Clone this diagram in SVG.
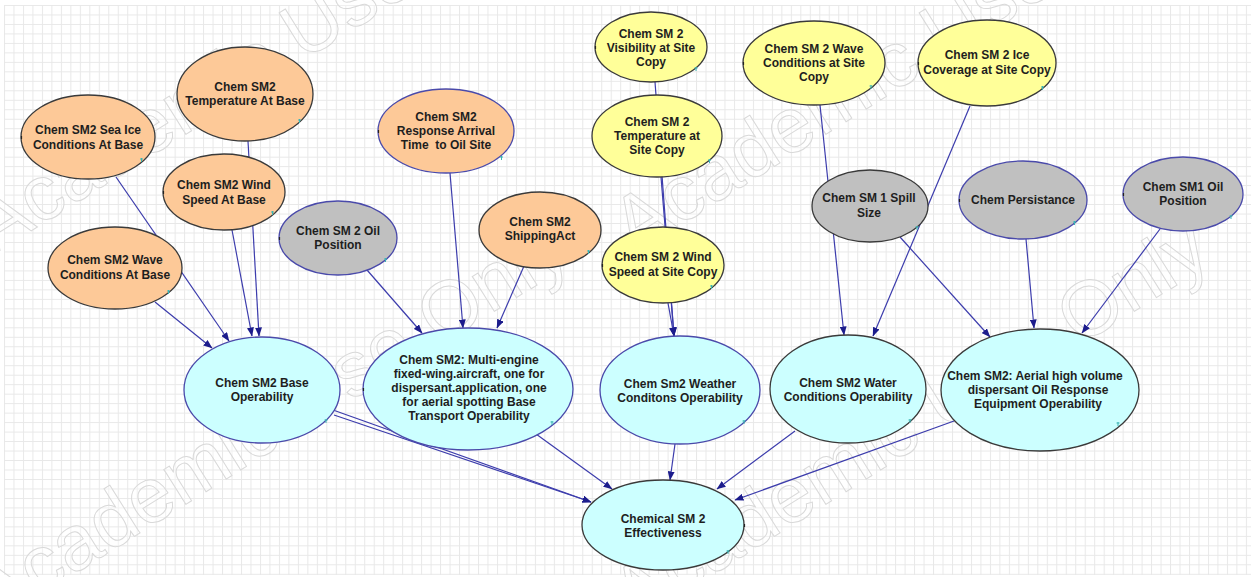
<svg xmlns="http://www.w3.org/2000/svg" width="1254" height="577" viewBox="0 0 1254 577">
  <style>
    .lbl { font-family: "Liberation Sans", Arial, sans-serif; font-size: 12px; font-weight: bold; fill: #1e1e1e; text-anchor: middle; white-space: pre; }
    .wm { font-family: "Liberation Sans", Arial, sans-serif; font-size: 78px; fill: #ffffff; fill-opacity: 0.35; stroke: #d9d9d9; stroke-width: 1; text-anchor: middle; }
    .orange { fill: #fdc998; }
    .yellow { fill: #ffff99; }
    .gray { fill: #c0c0c0; }
    .cyan { fill: #ccffff; }
    .dark { stroke: #3a3a3a; stroke-width: 1.3; }
    .blue { stroke: #4a4aaa; stroke-width: 1.3; }
    .edge { stroke: #3c3cac; stroke-width: 1.2; fill: none; marker-end: url(#arrow); }
    .tick { stroke: #3cb4b4; stroke-width: 1; fill: none; }
    .pin { stroke: #222; stroke-width: 1.2; }
  </style>
  <defs>
    <pattern id="grid" width="9.48" height="9.48" patternUnits="userSpaceOnUse" x="4" y="5">
      <path d="M0 0.5 H9.48 M0.5 0 V9.48" stroke="#e8e8e8" stroke-width="1" fill="none"/>
    </pattern>
    <marker id="arrow" viewBox="0 0 9 7" refX="8.5" refY="3.5" markerWidth="9" markerHeight="7" markerUnits="userSpaceOnUse" orient="auto">
      <path d="M0 0 L9 3.5 L0 7 Z" fill="#1c1c8c"/>
    </marker>
  </defs>

  <!-- canvas -->
  <rect x="0" y="0" width="1254" height="577" fill="#ffffff"/>
  <rect x="4" y="5" width="1247" height="570" fill="url(#grid)"/>

  <!-- watermark -->
  <g id="watermark">
    <text class="wm" transform="translate(284 73) rotate(-32)">Academic Use Only</text>
    <text class="wm" transform="translate(924 73) rotate(-32)">Academic Use Only</text>
    <text class="wm" transform="translate(284 443) rotate(-32)">Academic Use Only</text>
    <text class="wm" transform="translate(924 443) rotate(-32)">Academic Use Only</text>
  </g>

  <!-- links between nodes -->
  <g id="connectors">
    <line class="edge" x1="116" y1="177" x2="229" y2="341"/>
    <line class="edge" x1="155" y1="302" x2="212" y2="348"/>
    <line class="edge" x1="232" y1="230" x2="252" y2="336"/>
    <line class="edge" x1="248" y1="141" x2="259" y2="336"/>
    <line class="edge" x1="367" y1="270" x2="422" y2="333"/>
    <line class="edge" x1="450" y1="173" x2="463" y2="328"/>
    <line class="edge" x1="524" y1="266" x2="497" y2="328"/>
    <line class="edge" x1="655" y1="82" x2="674" y2="336"/>
    <line class="edge" x1="661" y1="177" x2="674" y2="336"/>
    <line class="edge" x1="668" y1="303" x2="674" y2="336"/>
    <line class="edge" x1="820" y1="105" x2="844" y2="335"/>
    <line class="edge" x1="970" y1="106" x2="873" y2="336"/>
    <line class="edge" x1="900" y1="237" x2="990" y2="337"/>
    <line class="edge" x1="1026" y1="239" x2="1034" y2="328"/>
    <line class="edge" x1="1160" y1="229" x2="1082" y2="333"/>
    <line class="edge" x1="333" y1="410" x2="591" y2="502"/>
    <line class="edge" x1="334" y1="415" x2="591" y2="502"/>
    <line class="edge" x1="536" y1="434" x2="612" y2="489"/>
    <line class="edge" x1="675" y1="444" x2="670" y2="480"/>
    <line class="edge" x1="795" y1="431" x2="717" y2="489"/>
    <line class="edge" x1="954" y1="421" x2="735" y2="500"/>
  </g>

  <g id="temp_base">
    <ellipse class="orange dark" cx="245" cy="94" rx="68" ry="47"/>
    <text class="lbl" x="245" y="91">Chem SM2</text>
    <text class="lbl" x="245" y="105">Temperature At Base</text>
    <path class="tick" d="M299.5 119 v4 M298 120 h3"/>
  </g>
  <g id="sea_ice_base">
    <ellipse class="orange dark" cx="88" cy="137" rx="67" ry="42"/>
    <text class="lbl" x="88" y="134">Chem SM2 Sea Ice</text>
    <text class="lbl" x="88" y="149">Conditions At Base</text>
    <path class="tick" d="M141.5 158 v4 M140 159 h3"/>
    <path class="pin" d="M21.5 136 v3"/>
  </g>
  <g id="wind_base">
    <ellipse class="orange dark" cx="224" cy="192" rx="61" ry="38"/>
    <text class="lbl" x="224" y="189">Chem SM2 Wind</text>
    <text class="lbl" x="224" y="204">Speed At Base</text>
    <path class="tick" d="M272.5 211 v4 M271 212 h3"/>
    <path class="pin" d="M163.5 191 v3"/>
  </g>
  <g id="oil_position_sm2">
    <ellipse class="gray blue" cx="338" cy="238" rx="59" ry="37"/>
    <text class="lbl" x="338" y="235">Chem SM 2 Oil</text>
    <text class="lbl" x="338" y="249">Position</text>
    <path class="tick" d="M385.5 258 v4 M384 259 h3"/>
    <path class="pin" d="M279.5 237 v3"/>
  </g>
  <g id="wave_base">
    <ellipse class="orange dark" cx="115" cy="268" rx="67" ry="41"/>
    <text class="lbl" x="115" y="264">Chem SM2 Wave</text>
    <text class="lbl" x="115" y="279">Conditions At Base</text>
    <path class="tick" d="M168.5 290 v4 M167 291 h3"/>
  </g>
  <g id="response_arrival">
    <ellipse class="orange blue" cx="446" cy="131" rx="68" ry="42"/>
    <text class="lbl" x="446" y="121">Chem SM2</text>
    <text class="lbl" x="446" y="135">Response Arrival</text>
    <text class="lbl" x="446" y="149">Time  to Oil Site</text>
    <path class="tick" d="M501.5 156 v4 M500 157 h3"/>
    <path class="pin" d="M378.5 130 v3"/>
  </g>
  <g id="shipping_act">
    <ellipse class="orange dark" cx="540" cy="230" rx="61" ry="38"/>
    <text class="lbl" x="540" y="226">Chem SM2</text>
    <text class="lbl" x="540" y="240">ShippingAct</text>
    <path class="tick" d="M588.5 250 v4 M587 251 h3"/>
  </g>
  <g id="visibility_site">
    <ellipse class="yellow dark" cx="651" cy="47" rx="56" ry="35"/>
    <text class="lbl" x="651" y="38">Chem SM 2</text>
    <text class="lbl" x="651" y="52">Visibility at Site</text>
    <text class="lbl" x="651" y="66">Copy</text>
    <path class="tick" d="M696 67 v4 M694.5 68 h3"/>
    <path class="pin" d="M595.5 46 v3"/>
  </g>
  <g id="temp_site">
    <ellipse class="yellow dark" cx="657" cy="136" rx="65" ry="41"/>
    <text class="lbl" x="657" y="126">Chem SM 2</text>
    <text class="lbl" x="657" y="140">Temperature at</text>
    <text class="lbl" x="657" y="154">Site Copy</text>
    <path class="tick" d="M709.5 159 v4 M708 160 h3"/>
  </g>
  <g id="wind_site">
    <ellipse class="yellow dark" cx="663" cy="265" rx="61" ry="38"/>
    <text class="lbl" x="663" y="261">Chem SM 2 Wind</text>
    <text class="lbl" x="663" y="276">Speed at Site Copy</text>
    <path class="tick" d="M711.5 285 v4 M710 286 h3"/>
    <path class="pin" d="M602.5 264 v3"/>
  </g>
  <g id="wave_site">
    <ellipse class="yellow dark" cx="814" cy="63" rx="71" ry="42"/>
    <text class="lbl" x="814" y="53">Chem SM 2 Wave</text>
    <text class="lbl" x="814" y="67">Conditions at Site</text>
    <text class="lbl" x="814" y="81">Copy</text>
    <path class="tick" d="M871 85 v4 M869.5 86 h3"/>
    <path class="pin" d="M743.5 62 v3"/>
  </g>
  <g id="ice_site">
    <ellipse class="yellow dark" cx="987" cy="63" rx="69" ry="43"/>
    <text class="lbl" x="987" y="59">Chem SM 2 Ice</text>
    <text class="lbl" x="987" y="74">Coverage at Site Copy</text>
    <path class="tick" d="M1042.5 86 v4 M1041 87 h3"/>
    <path class="pin" d="M918.5 62 v3"/>
  </g>
  <g id="spill_size">
    <ellipse class="gray dark" cx="870" cy="206" rx="58" ry="36"/>
    <text class="lbl" x="869" y="202">Chem SM 1 Spill</text>
    <text class="lbl" x="869" y="217">Size</text>
    <path class="tick" d="M917 226 v4 M915.5 227 h3"/>
  </g>
  <g id="persistance">
    <ellipse class="gray blue" cx="1023" cy="200" rx="64" ry="39"/>
    <text class="lbl" x="1023" y="204">Chem Persistance</text>
    <path class="tick" d="M1074.5 221 v4 M1073 222 h3"/>
    <path class="pin" d="M959.5 199 v3"/>
  </g>
  <g id="oil_position_sm1">
    <ellipse class="gray blue" cx="1183" cy="194" rx="60" ry="37"/>
    <text class="lbl" x="1183" y="191">Chem SM1 Oil</text>
    <text class="lbl" x="1183" y="205">Position</text>
    <path class="tick" d="M1231 215 v4 M1229.5 216 h3"/>
    <path class="pin" d="M1123.5 193 v3"/>
  </g>
  <g id="base_operability">
    <ellipse class="cyan blue" cx="262" cy="390" rx="78" ry="53"/>
    <text class="lbl" x="262" y="387">Chem SM2 Base</text>
    <text class="lbl" x="262" y="401">Operability</text>
    <path class="tick" d="M326 419 v4 M324.5 420 h3"/>
  </g>
  <g id="transport_operability">
    <ellipse class="cyan blue" cx="468" cy="389" rx="105" ry="61"/>
    <text class="lbl" x="469" y="364">Chem SM2: Multi-engine</text>
    <text class="lbl" x="469" y="378">fixed-wing.aircraft, one for</text>
    <text class="lbl" x="469" y="392">dispersant.application, one</text>
    <text class="lbl" x="469" y="406">for aerial spotting Base</text>
    <text class="lbl" x="469" y="420">Transport Operability</text>
    <path class="tick" d="M552 421 v4 M550.5 422 h3"/>
    <path class="pin" d="M363.5 388 v3"/>
  </g>
  <g id="weather_operability">
    <ellipse class="cyan blue" cx="680" cy="390" rx="80" ry="54"/>
    <text class="lbl" x="680" y="388">Chem Sm2 Weather</text>
    <text class="lbl" x="680" y="402">Conditons Operability</text>
    <path class="tick" d="M744 420 v4 M742.5 421 h3"/>
  </g>
  <g id="water_operability">
    <ellipse class="cyan dark" cx="848" cy="389" rx="78" ry="54"/>
    <text class="lbl" x="848" y="387">Chem SM2 Water</text>
    <text class="lbl" x="848" y="401">Conditions Operability</text>
    <path class="tick" d="M910 419 v4 M908.5 420 h3"/>
  </g>
  <g id="equipment_operability">
    <ellipse class="cyan dark" cx="1040" cy="390" rx="99" ry="61"/>
    <text class="lbl" x="1035" y="380">Chem SM2: Aerial high volume</text>
    <text class="lbl" x="1038" y="394">dispersant Oil Response</text>
    <text class="lbl" x="1038" y="408">Equipment Operability</text>
    <path class="tick" d="M1118 422 v4 M1116.5 423 h3"/>
  </g>
  <g id="effectiveness">
    <ellipse class="cyan dark" cx="663" cy="525" rx="81" ry="45"/>
    <text class="lbl" x="663" y="523">Chemical SM 2</text>
    <text class="lbl" x="663" y="537">Effectiveness</text>
    <path class="tick" d="M728 550 v4 M726.5 551 h3"/>
    <path class="pin" d="M744.5 524 v3"/>
  </g>
</svg>
